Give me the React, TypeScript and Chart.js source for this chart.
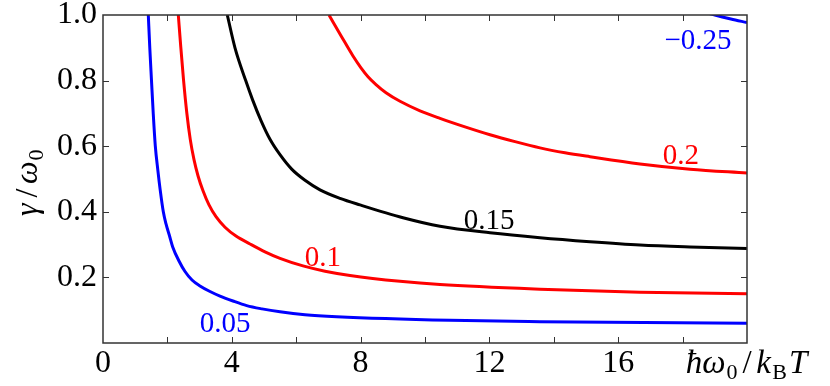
import React, { useEffect, useRef } from 'react';
import { Chart, registerables } from 'chart.js';

Chart.register(...registerables);

// ---- data ----
const xMin = 0;
const xMax = 20;
const yMin = 0;
const yMax = 1;
const xMinorTicks = [2, 4, 6, 8, 10, 12, 14, 16, 18];
const yTickVals = [0.2, 0.4, 0.6, 0.8];

const blue005X = [1.407, 1.453, 1.506, 1.559, 1.624, 1.702, 1.776, 1.873, 1.957, 2.065, 2.165, 2.360, 2.547, 2.764, 3.012, 3.323, 3.634, 4.037, 4.463, 4.938, 5.497, 6.273, 7.258, 10.776, 13.571, 20.0];
const blue005Y = [1.0, 0.900, 0.800, 0.702, 0.601, 0.528, 0.467, 0.400, 0.363, 0.327, 0.293, 0.250, 0.218, 0.192, 0.174, 0.157, 0.143, 0.128, 0.114, 0.104, 0.095, 0.086, 0.080, 0.069, 0.065, 0.060];

const red01X = [2.339, 2.416, 2.500, 2.602, 2.711, 2.826, 2.950, 3.106, 3.292, 3.509, 3.789, 4.130, 4.565, 5.031, 5.497, 6.211, 6.894, 7.671, 9.224, 10.466, 13.571, 16.677, 20.0];
const red01Y = [1.0, 0.902, 0.803, 0.702, 0.620, 0.559, 0.510, 0.464, 0.421, 0.385, 0.353, 0.326, 0.302, 0.278, 0.258, 0.235, 0.219, 0.206, 0.188, 0.178, 0.164, 0.155, 0.150];

const black015X = [3.860, 4.099, 4.432, 4.643, 4.907, 5.186, 5.497, 5.860, 6.273, 6.739, 7.360, 7.981, 9.317, 10.466, 12.019, 13.571, 15.124, 16.677, 18.230, 20.0];
const black015Y = [1.0, 0.900, 0.800, 0.742, 0.678, 0.621, 0.574, 0.530, 0.496, 0.467, 0.441, 0.421, 0.382, 0.356, 0.336, 0.321, 0.309, 0.299, 0.293, 0.288];

const red02X = [7.019, 7.391, 7.764, 8.012, 8.230, 8.478, 8.789, 9.224, 9.845, 10.466, 11.242, 12.019, 12.795, 13.571, 14.348, 15.124, 16.677, 18.230, 20.0];
const red02Y = [1.0, 0.937, 0.875, 0.839, 0.812, 0.788, 0.763, 0.737, 0.708, 0.685, 0.659, 0.635, 0.614, 0.595, 0.580, 0.568, 0.546, 0.530, 0.518];

const blueNeg025X = [18.7, 19.0, 19.5, 20.0];
const blueNeg025Y = [1.008, 1.0, 0.988, 0.977];

const curveLabels = ['0.05', '0.1', '0.15', '0.2', '\u22120.25'];
const curveLabelX = [3.79, 6.83, 11.99, 17.95, 18.48];
const curveLabelY = [0.034, 0.235, 0.348, 0.546, 0.897];
const curveColors = ['#0000ff', '#ff0000', '#000000', '#ff0000', '#0000ff'];

const SERIF = '"Liberation Serif"';

function pts(xs: number[], ys: number[]) {
  return xs.map((x, i) => ({ x, y: ys[i] }));
}

type Part = { t: string; size: number; italic?: boolean; dy?: number; gap?: number };

function richWidth(ctx: CanvasRenderingContext2D, parts: Part[]) {
  let w = 0;
  for (const p of parts) {
    ctx.font = `${p.italic ? 'italic ' : ''}${p.size}px ${SERIF}`;
    w += ctx.measureText(p.t).width + (p.gap || 0);
  }
  return w;
}

function drawRich(ctx: CanvasRenderingContext2D, parts: Part[], cx: number, baseY: number) {
  const w = richWidth(ctx, parts);
  let x = cx - w / 2;
  ctx.textAlign = 'left';
  ctx.textBaseline = 'alphabetic';
  for (const p of parts) {
    ctx.font = `${p.italic ? 'italic ' : ''}${p.size}px ${SERIF}`;
    x += (p.gap || 0) / 2;
    ctx.fillText(p.t, x, baseY + (p.dy || 0));
    x += ctx.measureText(p.t).width + (p.gap || 0) / 2;
  }
}

const decorPlugin = {
  id: 'decor',
  afterDraw(chart: any) {
    const { ctx, chartArea: a, scales } = chart;
    const xs = scales.x;
    const ys = scales.y;
    ctx.save();
    // frame
    ctx.strokeStyle = '#333333';
    ctx.lineWidth = 1.5;
    ctx.strokeRect(a.left, a.top, a.right - a.left, a.bottom - a.top);
    // inward ticks
    ctx.lineWidth = 1;
    ctx.beginPath();
    for (const v of xMinorTicks) {
      const px = Math.round(xs.getPixelForValue(v)) + 0.5;
      ctx.moveTo(px, a.bottom);
      ctx.lineTo(px, a.bottom - 6);
      ctx.moveTo(px, a.top);
      ctx.lineTo(px, a.top + 6);
    }
    for (const v of yTickVals) {
      const py = Math.round(ys.getPixelForValue(v)) + 0.5;
      ctx.moveTo(a.left, py);
      ctx.lineTo(a.left + 6, py);
      ctx.moveTo(a.right, py);
      ctx.lineTo(a.right - 6, py);
    }
    ctx.stroke();

    // curve labels
    ctx.textAlign = 'center';
    ctx.textBaseline = 'alphabetic';
    ctx.font = `29px ${SERIF}`;
    curveLabels.forEach((t, i) => {
      ctx.fillStyle = curveColors[i];
      ctx.fillText(t, xs.getPixelForValue(curveLabelX[i]), ys.getPixelForValue(curveLabelY[i]));
    });

    // x title (in place of the 20 tick label)
    ctx.fillStyle = '#000';
    const xParts: Part[] = [
      { t: '\u0127\u03c9', size: 33, italic: true },
      { t: '0', size: 22, dy: 6, gap: 2 },
      { t: '/', size: 33, gap: 8 },
      { t: 'k', size: 33, italic: true, gap: 1 },
      { t: 'B', size: 22, dy: 6, gap: 2 },
      { t: 'T', size: 33, italic: true, gap: 2 },
    ];
    drawRich(ctx, xParts, xs.getPixelForValue(20), 373);

    // y title
    const yParts: Part[] = [
      { t: '\u03b3', size: 32, italic: true, gap: 3 },
      { t: '/', size: 32, gap: 9 },
      { t: '\u03c9', size: 32, italic: true },
      { t: '0', size: 22, dy: 6, gap: 2 },
    ];
    ctx.save();
    ctx.translate(37, 183);
    ctx.rotate(-Math.PI / 2);
    drawRich(ctx, yParts, 0, 0);
    ctx.restore();

    ctx.restore();
  },
};

export default function App() {
  const ref = useRef<HTMLCanvasElement | null>(null);
  useEffect(() => {
    if (!ref.current) return;
    const lineDs = (xs: number[], ys: number[], color: string) => ({
      data: pts(xs, ys),
      showLine: true,
      borderColor: color,
      backgroundColor: color,
      borderWidth: 3,
      pointRadius: 0,
      cubicInterpolationMode: 'monotone' as const,
      fill: false,
    });
    const chart = new Chart(ref.current, {
      type: 'scatter',
      data: {
        datasets: [
          lineDs(blue005X, blue005Y, '#0000ff'),
          lineDs(red01X, red01Y, '#ff0000'),
          lineDs(black015X, black015Y, '#000000'),
          lineDs(red02X, red02Y, '#ff0000'),
          lineDs(blueNeg025X, blueNeg025Y, '#0000ff'),
        ],
      },
      options: {
        animation: false,
        responsive: false,
        maintainAspectRatio: false,
        layout: { padding: { left: 0, top: 15, right: 83, bottom: 0 } },
        plugins: { legend: { display: false }, tooltip: { enabled: false } },
        scales: {
          x: {
            type: 'linear',
            min: xMin,
            max: xMax,
            grid: { display: false, drawTicks: false },
            border: { display: false },
            ticks: {
              stepSize: 4,
              padding: 1,
              color: '#000',
              font: { family: SERIF, size: 32 },
              maxRotation: 0,
              callback: (v: any) => (Number(v) === 20 ? '' : String(v)),
            },
            afterFit: (s: any) => {
              s.height = 43;
              s.paddingLeft = 0;
              s.paddingRight = 0;
              s.paddingTop = 0;
              s.paddingBottom = 0;
            },
          },
          y: {
            type: 'linear',
            min: yMin,
            max: yMax,
            grid: { display: false, drawTicks: false },
            border: { display: false },
            ticks: {
              stepSize: 0.2,
              padding: 6,
              color: '#000',
              font: { family: SERIF, size: 32 },
              callback: (v: any) => (Math.abs(Number(v)) < 1e-9 ? '' : Number(v).toFixed(1)),
            },
            afterFit: (s: any) => {
              s.width = 103;
              s.paddingLeft = 0;
              s.paddingRight = 0;
              s.paddingTop = 0;
              s.paddingBottom = 0;
            },
          },
        },
      },
      plugins: [decorPlugin],
    });
    let alive = true;
    const fonts: any = (document as any).fonts;
    if (fonts && fonts.ready) {
      fonts.ready.then(() => {
        if (alive) chart.update();
      });
    }
    return () => {
      alive = false;
      chart.destroy();
    };
  }, []);
  return (
    <div style={{ position: 'fixed', left: 0, top: 0, width: 830, height: 386, background: '#fff' }}>
      <canvas
        ref={ref}
        width={830}
        height={386}
        style={{ position: 'absolute', left: 0, top: 0, display: 'block', width: 830, height: 386 }}
      />
    </div>
  );
}
